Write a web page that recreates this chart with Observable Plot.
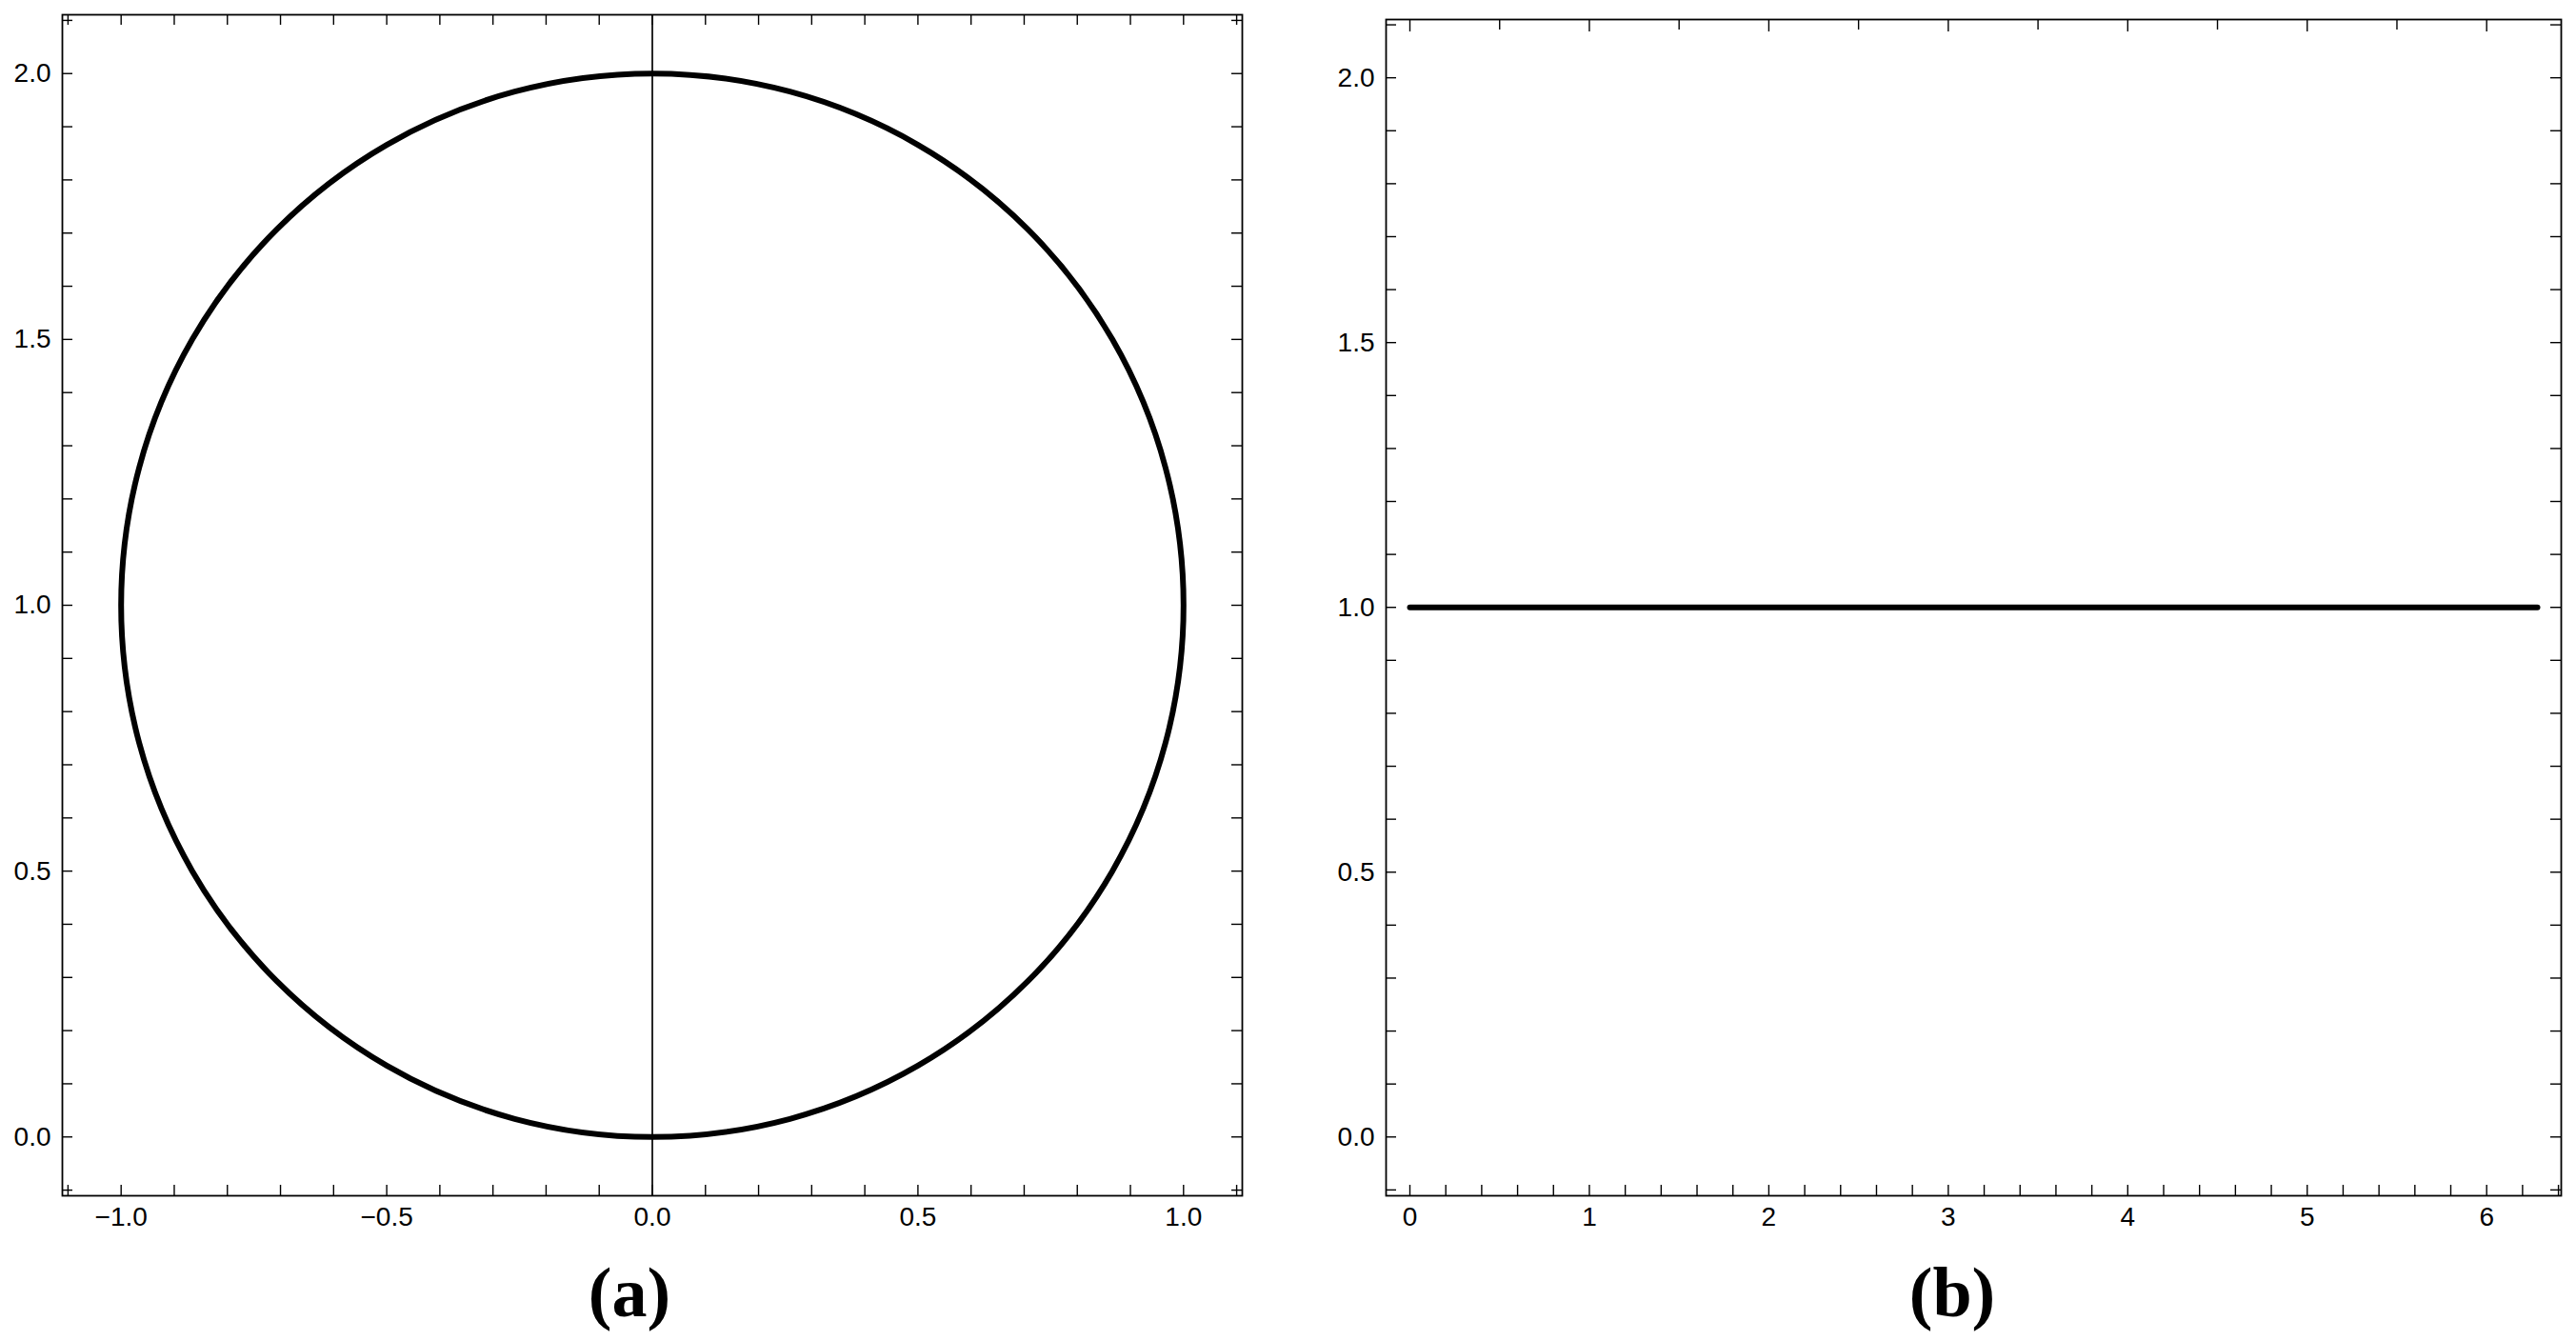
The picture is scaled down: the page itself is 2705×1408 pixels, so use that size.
<!DOCTYPE html>
<html><head><meta charset="utf-8">
<script src="https://cdn.jsdelivr.net/npm/d3@7"></script>
<script src="https://cdn.jsdelivr.net/npm/@observablehq/plot@0.6"></script>
<style>
html,body{margin:0;padding:0;background:#fff;}
#root{position:relative;width:2705px;height:1408px;overflow:hidden;background:#fff;}
.cap{position:absolute;width:300px;text-align:center;font-family:"Liberation Serif","Times New Roman",serif;font-weight:bold;font-size:74px;line-height:74px;color:#000;}
</style></head><body><div id="root"></div>
<script>
// ---- data ----
// (a) circle of radius 1 centred at (0, 1), sampled points
const circleX = [1, 0.966, 0.866, 0.707, 0.5, 0.259, 0, -0.259, -0.5, -0.707, -0.866, -0.966,
                 -1, -0.966, -0.866, -0.707, -0.5, -0.259, 0, 0.259, 0.5, 0.707, 0.866, 0.966];
const circleY = [1, 1.259, 1.5, 1.707, 1.866, 1.966, 2, 1.966, 1.866, 1.707, 1.5, 1.259,
                 1, 0.741, 0.5, 0.293, 0.134, 0.034, 0, 0.034, 0.134, 0.293, 0.5, 0.741];
const verticalLineX = [0];
// (b) constant line y = 1 on [0, 2π]
const lineX = [0, 6.283];
const lineY = [1, 1];
// tick labels
const aXTicks = [-1, -0.5, 0, 0.5, 1];
const aXTickLabels = ["−1.0", "−0.5", "0.0", "0.5", "1.0"];
const bXTicks = [0, 1, 2, 3, 4, 5, 6];
const bXTickLabels = ["0", "1", "2", "3", "4", "5", "6"];
const yTicks = [0, 0.5, 1, 1.5, 2];
const yTickLabels = ["0.0", "0.5", "1.0", "1.5", "2.0"];
const panelLabels = ["(a)", "(b)"];

// minor tick positions
const r = (v) => Math.round(v * 1000) / 1000;
const aMinorX = d3.range(-11, 12).map(i => r(i / 10));
const yMinor = d3.range(-1, 22).map(i => r(i / 10));
const bMinorX = d3.range(0, 33).map(i => r(i / 5));
const bTopHalf = d3.range(0, 13).filter(i => i % 2 === 1).map(i => i / 2);
const bTopInt = d3.range(0, 7);

const FONT = "'Liberation Sans', Arial, Helvetica, sans-serif";
const T = 11;

function panel(o) {
  const innerW = o.width - o.ml - o.mr, innerH = o.height - o.mt - o.mb;
  const xLab = new Map(o.xTicks.map((t, i) => [t, o.xLabels[i]]));
  const yLab = new Map(yTicks.map((t, i) => [t, yTickLabels[i]]));
  const tk = {stroke: "black", strokeWidth: 1.4};
  const tickMarks = [
    Plot.ruleX(o.bottomTicks, {x: d => d, insetTop: innerH - T, ...tk}),
    Plot.ruleY(yMinor, {y: d => d, insetRight: innerW - T, ...tk}),
    Plot.ruleY(yMinor, {y: d => d, insetLeft: innerW - T, ...tk})
  ];
  for (const [ticks, len] of o.topTicks) {
    tickMarks.push(Plot.ruleX(ticks, {x: d => d, insetBottom: innerH - len, ...tk}));
  }
  const svg = Plot.plot({
    width: o.width, height: o.height,
    marginLeft: o.ml, marginRight: o.mr, marginTop: o.mt, marginBottom: o.mb,
    x: {domain: o.xDomain},
    y: {domain: o.yDomain},
    style: {fontFamily: FONT, background: "white", color: "black", overflow: "visible"},
    marks: [
      ...o.marks,
      ...tickMarks,
      Plot.axisX({anchor: "bottom", ticks: o.xTicks, tickSize: 0, tickPadding: 12, fontSize: 28,
                  tickFormat: d => xLab.get(d), label: null}),
      Plot.axisY({anchor: "left", ticks: yTicks, tickSize: 0, tickPadding: 12, fontSize: 28,
                  tickFormat: d => yLab.get(d), label: null}),
      Plot.frame({stroke: "black", strokeWidth: 1.8})
    ]
  });
  svg.style.position = "absolute";
  svg.style.left = o.left + "px";
  svg.style.top = "0px";
  return svg;
}

const root = document.getElementById("root");

const circleData = circleX.map((x, i) => ({x, y: circleY[i]}));
const lineData = lineX.map((x, i) => ({x, y: lineY[i]}));

root.appendChild(panel({
  left: 0, width: 1340, height: 1310, ml: 65, mr: 36, mt: 15, mb: 55,
  xDomain: [-1.1106, 1.1106], yDomain: [-0.1106, 2.1106],
  xTicks: aXTicks, xLabels: aXTickLabels,
  bottomTicks: aMinorX, topTicks: [[aMinorX, T]],
  marks: [
    Plot.ruleX(verticalLineX, {x: d => d, stroke: "black", strokeWidth: 1.7}),
    Plot.line(circleData, {x: "x", y: "y", curve: "catmull-rom-closed", stroke: "black", strokeWidth: 6})
  ]
}));

root.appendChild(panel({
  left: 1390, width: 1315, height: 1310, ml: 65, mr: 16, mt: 20, mb: 55,
  xDomain: [-0.1327, 6.4155], yDomain: [-0.111, 2.11],
  xTicks: bXTicks, xLabels: bXTickLabels,
  bottomTicks: bMinorX, topTicks: [[bTopHalf, T], [bTopInt, 13]],
  marks: [
    Plot.line(lineData, {x: "x", y: "y", stroke: "black", strokeWidth: 6, strokeLinecap: "round"})
  ]
}));

const capCenters = [661, 2050];
panelLabels.forEach((t, i) => {
  const d = document.createElement("div");
  d.className = "cap";
  d.textContent = t;
  d.style.left = (capCenters[i] - 150) + "px";
  d.style.top = "1320px";
  root.appendChild(d);
});
</script>
</body></html>
